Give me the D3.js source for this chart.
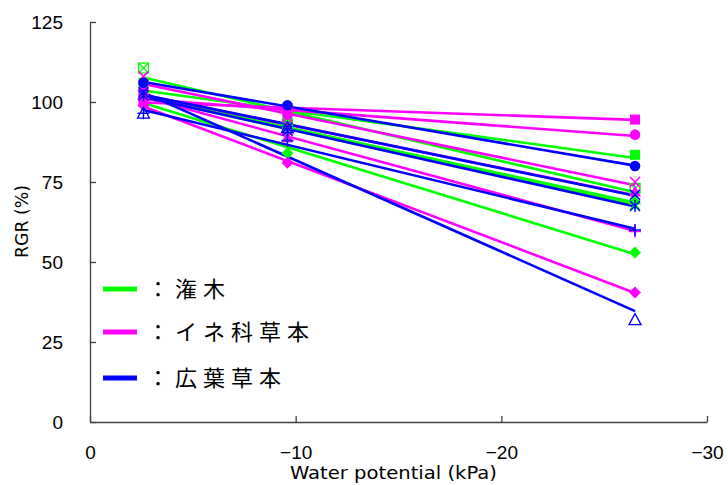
<!DOCTYPE html>
<html>
<head>
<meta charset="utf-8">
<script src="https://cdn.jsdelivr.net/npm/d3@7"></script>
<style>
  html, body { margin: 0; padding: 0; background: #fff; }
  svg { display: block; }
</style>
</head>
<body>
<svg id="chart" width="728" height="485"></svg>
<script>
// Water potential levels (kPa) at which RGR was measured
const potentials = [-2.6, -9.6, -26.5];

// RGR (%) per species, one array per species, grouped by life form
const shrubSquare   = [106, 94, 83.5];
const shrubBoxX     = [110.6, 93, 73];
const shrubTriangle = [104, 89, 69.5];
const shrubStar     = [102, 91, 68];
const shrubDiamond  = [101, 84, 53];

const grassSquare   = [100, 98, 94.5];
const grassCircle   = [102, 96, 89.8];
const grassX        = [108, 93, 75];
const grassTriangle = [105, 89, 72];
const grassPlus     = [101, 90, 59.5];
const grassDiamond  = [99, 81, 40.5];

const forbCircle    = [106, 99, 80];
const forbX         = [103, 92, 71];
const forbStar      = [102, 91, 67.5];
const forbPlus      = [96.5, 88, 60];
const forbTriangle  = [96.5, 92, 32];

const groupNames  = ["：潅木", "：イネ科草本", "：広葉草本"];
const groupColors = ["#00ff00", "#ff00ff", "#0000ff"];

const xTicks = [0, -10, -20, -30];
const yTicks = [0, 25, 50, 75, 100, 125];

const series = [
  { g: 0, v: shrubSquare,   m: "square" },
  { g: 0, v: shrubBoxX,     m: "boxx" },
  { g: 0, v: shrubTriangle, m: "triangle" },
  { g: 0, v: shrubStar,     m: "star" },
  { g: 0, v: shrubDiamond,  m: "diamond" },
  { g: 1, v: grassSquare,   m: "square" },
  { g: 1, v: grassCircle,   m: "circle" },
  { g: 1, v: grassX,        m: "x" },
  { g: 1, v: grassTriangle, m: "triangle" },
  { g: 1, v: grassPlus,     m: "plus" },
  { g: 1, v: grassDiamond,  m: "diamond" },
  { g: 2, v: forbCircle,    m: "circle" },
  { g: 2, v: forbX,         m: "x" },
  { g: 2, v: forbStar,      m: "star" },
  { g: 2, v: forbPlus,      m: "plus" },
  { g: 2, v: forbTriangle,  m: "opentriangle" }
];

const svg = d3.select("#chart");
const x = d3.scaleLinear().domain([0, -30]).range([90, 707]);
const y = d3.scaleLinear().domain([0, 125]).range([422, 22]);

// least-squares trend line through each species' points
function fit(xs, ys) {
  const mx = d3.mean(xs), my = d3.mean(ys);
  let sxy = 0, sxx = 0;
  xs.forEach((xi, i) => { sxy += (xi - mx) * (ys[i] - my); sxx += (xi - mx) * (xi - mx); });
  const b = sxy / sxx;
  return xv => my + b * (xv - mx);
}

const latinFont = "'Liberation Sans', Arial, sans-serif";
const titleFont = "'DejaVu Sans', sans-serif";

// axes
const axisColor = "#404040";
const xAxis = d3.axisBottom(x).tickValues(xTicks).tickSizeInner(-6).tickSizeOuter(0)
  .tickFormat(d => d === 0 ? "0" : "−" + Math.abs(d));
const gx = svg.append("g").attr("transform", "translate(0,422)").call(xAxis);
const yAxis = d3.axisLeft(y).tickValues(yTicks).tickSizeInner(-6).tickSizeOuter(0);
const gy = svg.append("g").attr("transform", "translate(90,0)").call(yAxis);
[gx, gy].forEach(g => {
  g.select(".domain").attr("stroke", axisColor).attr("stroke-width", 1.3);
  g.selectAll(".tick line").attr("stroke", axisColor).attr("stroke-width", 1.3);
  g.selectAll("text").attr("fill", "#000")
    .style("font-family", latinFont).style("font-size", "19px");
});
gx.selectAll("text").attr("y", 24);
gy.selectAll("text").attr("x", -27).attr("dy", "0.35em");

svg.append("text")
  .attr("x", 290).attr("y", 479)
  .attr("textLength", 207).attr("lengthAdjust", "spacingAndGlyphs")
  .style("font-family", titleFont).style("font-size", "17px")
  .text("Water potential (kPa)");
svg.append("text")
  .attr("transform", "translate(28,258) rotate(-90)")
  .attr("textLength", 73).attr("lengthAdjust", "spacingAndGlyphs")
  .style("font-family", titleFont).style("font-size", "17px")
  .text("RGR (%)");

// trend lines, drawn by group so blue sits on top
const lines = svg.append("g");
series.forEach(s => {
  const f = fit(potentials, s.v);
  const x0 = potentials[0], x1 = potentials[potentials.length - 1];
  lines.append("line")
    .attr("x1", x(x0)).attr("y1", y(f(x0)))
    .attr("x2", x(x1)).attr("y2", y(f(x1)))
    .attr("stroke", groupColors[s.g]).attr("stroke-width", 2.6);
});

// markers
const marks = svg.append("g");
function drawMarker(g, shape, cx, cy, color) {
  const r = 5;
  if (shape === "square") {
    g.append("rect").attr("x", cx - r).attr("y", cy - r).attr("width", 2 * r).attr("height", 2 * r).attr("fill", color);
  } else if (shape === "circle") {
    g.append("circle").attr("cx", cx).attr("cy", cy).attr("r", r + 0.3).attr("fill", color);
  } else if (shape === "diamond") {
    g.append("path").attr("d", `M${cx},${cy - r - 1}L${cx + r + 1},${cy}L${cx},${cy + r + 1}L${cx - r - 1},${cy}Z`).attr("fill", color);
  } else if (shape === "triangle") {
    g.append("path").attr("d", `M${cx},${cy - r - 1}L${cx + r + 1},${cy + r}L${cx - r - 1},${cy + r}Z`).attr("fill", color);
  } else if (shape === "opentriangle") {
    g.append("path").attr("d", `M${cx},${cy - r - 1}L${cx + r + 1},${cy + r}L${cx - r - 1},${cy + r}Z`)
      .attr("fill", "none").attr("stroke", color).attr("stroke-width", 1.3);
  } else if (shape === "x") {
    g.append("path").attr("d", `M${cx - r},${cy - r}L${cx + r},${cy + r}M${cx - r},${cy + r}L${cx + r},${cy - r}`)
      .attr("stroke", color).attr("stroke-width", 1.5);
  } else if (shape === "plus") {
    g.append("path").attr("d", `M${cx - r - 1},${cy}L${cx + r + 1},${cy}M${cx},${cy - r - 1}L${cx},${cy + r + 1}`)
      .attr("stroke", color).attr("stroke-width", 1.5);
  } else if (shape === "star") {
    g.append("path").attr("d", `M${cx - r},${cy - r}L${cx + r},${cy + r}M${cx - r},${cy + r}L${cx + r},${cy - r}M${cx},${cy - r - 1}L${cx},${cy + r + 1}`)
      .attr("stroke", color).attr("stroke-width", 1.4);
  } else if (shape === "boxx") {
    g.append("rect").attr("x", cx - r).attr("y", cy - r).attr("width", 2 * r).attr("height", 2 * r)
      .attr("fill", "none").attr("stroke", color).attr("stroke-width", 1.3);
    g.append("path").attr("d", `M${cx - r},${cy - r}L${cx + r},${cy + r}M${cx - r},${cy + r}L${cx + r},${cy - r}`)
      .attr("stroke", color).attr("stroke-width", 1.3);
  }
}
series.forEach(s => {
  s.v.forEach((val, i) => drawMarker(marks, s.m, x(potentials[i]), y(val), groupColors[s.g]));
});

// legend
const legendY = [289, 332, 378];
const legend = svg.append("g");
groupNames.forEach((name, i) => {
  legend.append("line")
    .attr("x1", 103).attr("x2", 137).attr("y1", legendY[i]).attr("y2", legendY[i])
    .attr("stroke", groupColors[i]).attr("stroke-width", 5);
  legend.append("text")
    .attr("x", 147).attr("y", legendY[i]).attr("dy", "0.36em")
    .style("font-family", "'Noto Sans CJK JP', sans-serif").style("font-size", "22px")
    .style("letter-spacing", "6px").attr("fill", "#000")
    .text(name);
});
</script>
</body>
</html>
